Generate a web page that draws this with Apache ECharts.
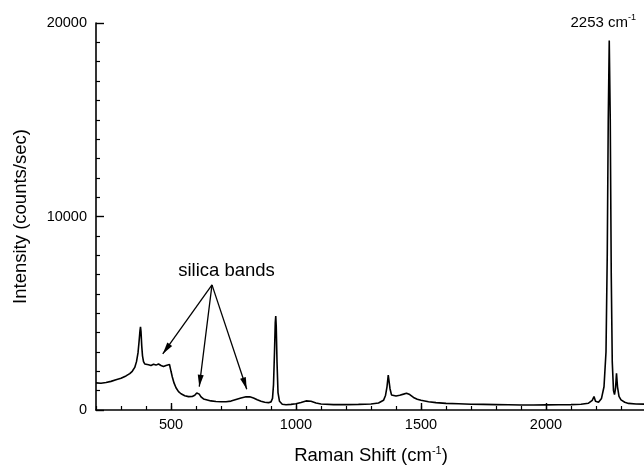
<!DOCTYPE html>
<html>
<head>
<meta charset="utf-8">
<title>Raman spectrum</title>
<script src="https://cdn.jsdelivr.net/npm/echarts@6/dist/echarts.min.js"></script>
<style>
  html, body { margin: 0; padding: 0; background: #fff; }
  #chart { width: 644px; height: 472px; }
</style>
</head>
<body>
<div id="chart"></div>
<script>
// Raman shift (cm-1) of each sampled point
const ramanShift = [
  200, 220, 240, 260, 280, 300, 320, 335, 345, 355, 362, 368, 372, 376, 378, 380, 383, 386, 390, 395,
  400, 410, 420, 430, 440, 450, 460, 470, 480, 488, 494, 500, 505, 512, 520, 530, 540, 555, 570, 585,
  595, 603, 608, 613, 620, 630, 645, 660, 680, 700, 720, 740, 760, 780, 800, 815, 830, 845, 860, 875,
  890, 900, 906, 910, 914, 917, 919, 921, 924, 928, 934, 945, 960, 980, 1000, 1020, 1040, 1060, 1080, 1100,
  1150, 1200, 1250, 1300, 1330, 1350, 1358, 1364, 1369, 1372, 1376, 1382, 1390, 1400, 1415, 1430, 1442, 1455, 1470, 1485,
  1500, 1530, 1560, 1600, 1650, 1700, 1750, 1800, 1850, 1900, 1950, 2000, 2050, 2100, 2140, 2170, 2185, 2192, 2198, 2210,
  2222, 2232, 2240, 2245, 2249, 2253, 2257, 2261, 2265, 2270, 2274, 2278, 2282, 2286, 2292, 2300, 2315, 2330, 2360, 2400
];

// Intensity (counts/sec) at each shift
const intensity = [
  1400, 1380, 1420, 1480, 1560, 1640, 1760, 1880, 2000, 2200, 2500, 2950, 3500, 4100, 4300, 4050, 3300, 2800, 2500, 2380,
  2320, 2340, 2300, 2360, 2320, 2380, 2300, 2250, 2300, 2400, 2350, 2000, 1720, 1400, 1150, 950, 840, 740, 690, 700,
  760, 880, 900, 820, 680, 570, 520, 470, 440, 430, 430, 460, 540, 620, 680, 680, 620, 530, 450, 400,
  380, 420, 600, 1300, 3000, 4500, 4850, 4300, 2500, 900, 450, 300, 270, 290, 320, 390, 470, 450, 360, 310,
  280, 280, 290, 310, 360, 500, 750, 1200, 1800, 1750, 1100, 780, 740, 720, 760, 820, 870, 800, 650, 560,
  500, 430, 380, 340, 320, 300, 290, 280, 270, 260, 260, 265, 270, 280, 300, 350, 500, 700, 450, 400,
  600, 1200, 3000, 8000, 15000, 19100, 15000, 7000, 2500, 1000, 800, 1100, 1900, 1200, 700, 520, 400, 340, 310, 300
];

// Axis ranges and labelled ticks
const xRange = [200, 2400];
const xMajorTicks = [500, 1000, 1500, 2000];
const yRange = [0, 20000];
const yInterval = 10000;

// Annotations (data coordinates)
const peakLabel = { shift: 2253, value: 19100, text: '2253 cm{s|-1}' };
const bandsLabel = { shift: 722, value: 7190, text: 'silica bands' };
const bandsArrowFrom = [664, 6465];
const bandsArrowTo = [[467, 2896], [613, 1205], [803, 1070]];

const FONT = "'Liberation Sans', Arial, Helvetica, sans-serif";
const INK = '#000';

const points = ramanShift.map((x, i) => [x, intensity[i]]);
const plainNumber = v => String(v);

const chart = echarts.init(document.getElementById('chart'), null, { renderer: 'canvas' });

chart.setOption({
  animation: false,
  backgroundColor: '#fff',
  textStyle: { fontFamily: FONT, color: INK },
  grid: {
    left: 96, right: -2, top: 23, bottom: 62,
    containLabel: false,
    outerBoundsMode: 'none'
  },
  xAxis: [
    {
      type: 'value',
      min: xRange[0], max: xRange[1], interval: 100,
      position: 'bottom',
      name: 'Raman Shift (cm{s|-1})',
      nameLocation: 'middle',
      nameGap: 35,
      nameTextStyle: {
        fontFamily: FONT, fontSize: 18.5, color: INK,
        rich: {
          s: { fontFamily: FONT, fontSize: 11, color: INK, verticalAlign: 'top', lineHeight: 22 }
        }
      },
      axisLine: { show: true, onZero: false, lineStyle: { color: INK, width: 1.6 } },
      axisTick: { show: true, inside: true, length: 4, lineStyle: { color: INK, width: 1.2 } },
      axisLabel: {
        customValues: xMajorTicks,
        formatter: plainNumber,
        margin: 7,
        fontFamily: FONT, fontSize: 14.5, color: INK
      },
      splitLine: { show: false }
    },
    {
      type: 'value',
      min: xRange[0], max: xRange[1], interval: 100,
      position: 'bottom',
      axisLine: { show: false },
      axisTick: {
        show: true, inside: true, length: 7,
        customValues: xMajorTicks,
        lineStyle: { color: INK, width: 1.4 }
      },
      axisLabel: { show: false },
      splitLine: { show: false }
    }
  ],
  yAxis: {
    type: 'value',
    min: yRange[0], max: yRange[1], interval: yInterval,
    name: 'Intensity (counts/sec)',
    nameLocation: 'middle',
    nameGap: 66,
    nameTextStyle: { fontFamily: FONT, fontSize: 18.5, color: INK },
    axisLine: { show: true, onZero: false, lineStyle: { color: INK, width: 1.6 } },
    axisTick: { show: true, inside: true, length: 8, lineStyle: { color: INK, width: 1.4 } },
    minorTick: { show: true, splitNumber: 10, length: 4, lineStyle: { color: INK, width: 1.2 } },
    axisLabel: { formatter: plainNumber, margin: 9, fontFamily: FONT, fontSize: 14.5, color: INK },
    splitLine: { show: false },
    minorSplitLine: { show: false }
  },
  series: [
    {
      type: 'line',
      xAxisIndex: 0,
      data: points,
      showSymbol: false,
      symbol: 'none',
      smooth: false,
      clip: true,
      silent: true,
      lineStyle: { color: INK, width: 1.6 },
      markPoint: {
        silent: true,
        symbol: 'circle',
        symbolSize: 0,
        itemStyle: { color: 'rgba(0,0,0,0)' },
        data: [
          {
            coord: [peakLabel.shift, peakLabel.value],
            label: {
              show: true,
              position: 'top',
              distance: 9,
              offset: [-6, 0],
              formatter: peakLabel.text,
              fontFamily: FONT, fontSize: 15, color: INK,
              rich: {
                s: { fontFamily: FONT, fontSize: 9, color: INK, verticalAlign: 'top', lineHeight: 18 }
              }
            }
          },
          {
            coord: [bandsLabel.shift, bandsLabel.value],
            label: {
              show: true,
              position: 'inside',
              formatter: bandsLabel.text,
              fontFamily: FONT, fontSize: 18.5, color: INK
            }
          }
        ]
      },
      markLine: {
        silent: true,
        animation: false,
        symbol: ['none', 'triangle'],
        symbolSize: [0, [6, 12]],
        label: { show: false },
        emphasis: { disabled: true },
        lineStyle: { color: INK, width: 1.3, type: 'solid' },
        data: bandsArrowTo.map(to => [
          { coord: bandsArrowFrom },
          { coord: to, symbol: 'triangle', symbolSize: [6, 12], symbolOffset: [0, 6] }
        ])
      }
    }
  ]
});
</script>
</body>
</html>
